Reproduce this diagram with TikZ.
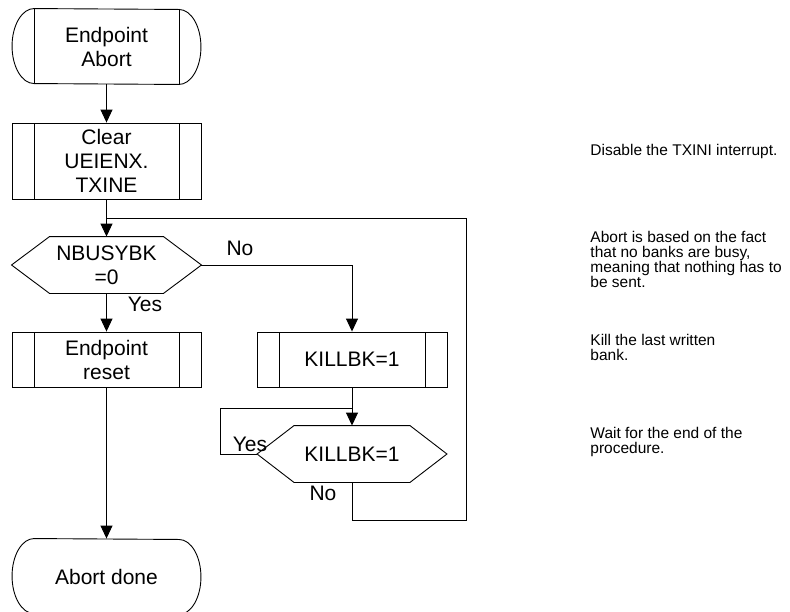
\documentclass[tikz,border=0pt]{standalone}
\usepackage{fontspec}
\setmainfont{Liberation Sans}
\usetikzlibrary{positioning, arrows.meta}

\begin{document}
\begin{tikzpicture}[x=1pt, y=-1pt, line width=0.9pt, every node/.style={font=\fontsize{21}{24}\selectfont}]
    \tikzstyle{proc}=[draw, minimum width=189pt, minimum height=55pt, inner sep=0pt, align=center,
      path picture={\draw ([xshift=22pt]path picture bounding box.north west) -- ([xshift=22pt]path picture bounding box.south west)
        ([xshift=-22pt]path picture bounding box.north east) -- ([xshift=-22pt]path picture bounding box.south east);}]
    \tikzstyle{term}=[minimum width=144pt, minimum height=75pt, inner sep=0pt, align=center]
    \tikzstyle{cond}=[minimum width=115pt, minimum height=56pt, inner sep=0pt, align=center]
    \tikzstyle{note}=[anchor=west, align=left, inner sep=0pt, font=\fontsize{15.5}{15}\selectfont]
    \tikzstyle{arr}=[-{Triangle[width=12pt, length=13pt]}]
    \useasboundingbox (0,0) rectangle (790,611);
    % flow chart
    \node[term] (start) at (106.5,46.5) {Endpoint\\Abort};
    \draw (start.north west) arc[start angle=90, end angle=270, x radius=22pt, y radius=37.5pt] -- (start.south east)
      arc[start angle=-90, end angle=90, x radius=22pt, y radius=37.5pt] -- cycle;
    \draw (start.north west) -- (start.south west) (start.north east) -- (start.south east);
    \node[proc, minimum height=76pt] (clr) at (106.5,161) {Clear\\UEIENX.\\TXINE};
    \node[cond, minimum width=113pt] (busy) at (106.5,265) {NBUSYBK\\=0};
    \draw (busy.north west) -- (busy.north east) -- ([xshift=38pt]busy.east) coordinate (busyR) -- (busy.south east)
      -- (busy.south west) -- ([xshift=-38pt]busy.west) -- cycle;
    \node[proc] (reset) at (106.5,359.5) {Endpoint\\reset};
    \node[proc, minimum width=190pt] (kill) at (352,359.5) {KILLBK=1};
    \node[cond] (wait) at (352,454) {KILLBK=1};
    \draw (wait.north west) -- (wait.north east) -- ([xshift=37pt]wait.east) -- (wait.south east)
      -- (wait.south west) -- ([xshift=-37pt]wait.west) coordinate (waitL) -- cycle;
    \node[term] (done) at (106.5,576.5) {Abort done};
    \draw (done.north west) arc[start angle=90, end angle=270, x radius=22pt, y radius=37.5pt] -- (done.south east)
      arc[start angle=-90, end angle=90, x radius=22pt, y radius=37.5pt] -- cycle;
    \coordinate (join) at (106.5,218);
    \coordinate (back) at (352,408);
    \draw[arr] (start) -- (clr);
    \draw[arr] (clr) -- (busy);
    \draw[arr] (busyR) -| (kill.north);
    \draw[arr] (busy.south) -- (reset.north);
    \draw[arr] (kill) -- (wait);
    \draw (waitL) -- ++(-37,0) |- (back);
    \draw (wait.south) |- ++(114,38) |- (join);
    \draw[arr] (reset) -- (done);
    \node (no1) at (240,248) {No};
    \node (yes1) at (145,304) {Yes};
    \node (yes2) at (250,444) {Yes};
    \node (no2) at (323,493) {No};
    % comments
    \node[note] (n1) at (590,151) {Disable the TXINI interrupt.};
    \node[note] (n2) at (590,259) {Abort is based on the fact\\that no banks are busy,\\meaning that nothing has to\\be sent.};
    \node[note] (n3) at (590,347) {Kill the last written\\bank.};
    \node[note] (n4) at (590,442) {Wait for the end of the\\procedure.};
\end{tikzpicture}
\end{document}
